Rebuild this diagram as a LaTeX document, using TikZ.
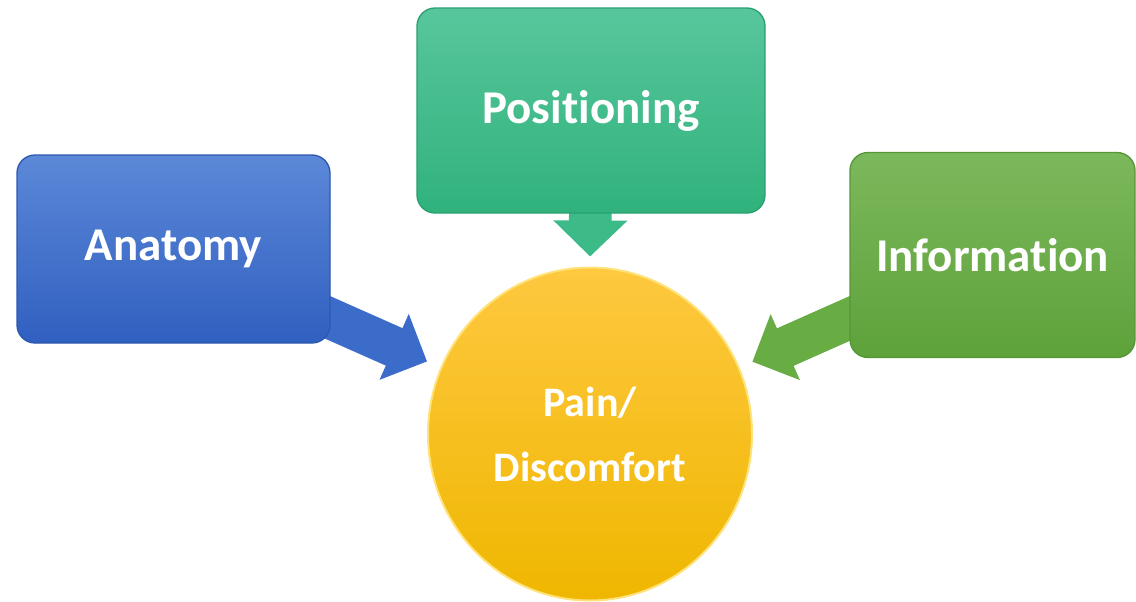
\documentclass[tikz,border=0pt]{standalone}
\usepackage{fontspec}
\setmainfont{Carlito}[Ligatures={NoCommon,NoContextual}]
\usetikzlibrary{arrows.meta,shapes.geometric}
\pgfdeclarelayer{bg}
\pgfsetlayers{bg,main}
\definecolor{bluetop}{HTML}{5C88D8}
\definecolor{bluebot}{HTML}{3060C0}
\definecolor{blueedge}{HTML}{2E58B0}
\definecolor{tealtop}{HTML}{58C69C}
\definecolor{tealbot}{HTML}{30B27C}
\definecolor{tealedge}{HTML}{2AA070}
\definecolor{limetop}{HTML}{7CB85C}
\definecolor{limebot}{HTML}{5EA23A}
\definecolor{limeedge}{HTML}{56963A}
\definecolor{goldtop}{HTML}{FEC840}
\definecolor{goldmid}{HTML}{FDC300}
\definecolor{goldbot}{HTML}{EFB700}
\definecolor{goldedge}{HTML}{FFE27A}
\definecolor{bluearr}{HTML}{3C6CCA}
\definecolor{tealarr}{HTML}{3CBA88}
\definecolor{limearr}{HTML}{68AC44}
\tikzset{
  box/.style={rectangle, rounded corners=13.5pt, text=white,
    font=\bfseries\fontsize{35.25}{42}\selectfont, line width=1pt},
  bluebox/.style={box, top color=bluetop, bottom color=bluebot, draw=blueedge},
  tealbox/.style={box, top color=tealtop, bottom color=tealbot, draw=tealedge},
  limebox/.style={box, top color=limetop, bottom color=limebot, draw=limeedge},
  hub/.style={ellipse, top color=goldtop, middle color=goldmid, bottom color=goldbot,
    draw=goldedge, line width=1.5pt, text=white, align=center,
    font=\bfseries\fontsize{31.5}{48.75}\selectfont,
    minimum width=243pt, minimum height=249.75pt, inner sep=0pt},
  fat/.style={line width=#1},
}
\begin{document}
\begin{tikzpicture}[x=0.75pt, y=-0.75pt]
\useasboundingbox (0,0) rectangle (1136,601);
\node[bluebox, minimum width=234.75pt, minimum height=141pt] (anatomy) at (173.5,249) {Anatomy};
\node[tealbox, minimum width=261pt, minimum height=153.75pt] (positioning) at (591,110.5) {Positioning};
\node[limebox, minimum width=213.75pt, minimum height=153.75pt] (information) at (992.5,255) {Information};
\node[hub] (pain) at (590,434) {Pain/\\Discomfort};
\begin{pgfonlayer}{bg}
\draw[fat=30.75pt, bluearr, -{Triangle[width=52.5pt,length=27pt]}, shorten >=11pt]
  (anatomy.center) -- (pain.156);
\draw[fat=32pt, tealarr, -{Triangle[width=54pt,length=27pt]}, shorten >=7.5pt]
  (positioning.center) -- (pain.90);
\draw[fat=30.75pt, limearr, -{Triangle[width=52.5pt,length=27pt]}, shorten >=10.5pt]
  (information.center) -- (pain.24);
\end{pgfonlayer}
\end{tikzpicture}
\end{document}
